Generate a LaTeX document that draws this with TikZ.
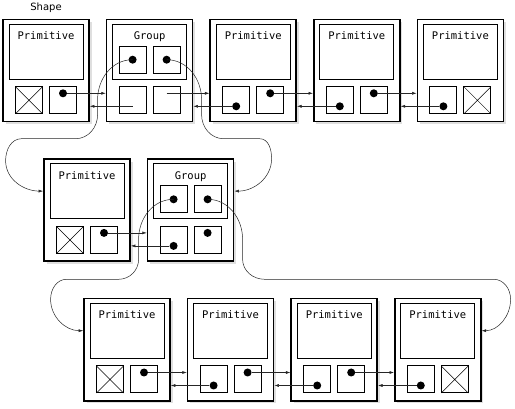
\documentclass[tikz,border=0pt]{standalone}
\usepackage{fontspec}
\usepackage{tikz}
\usetikzlibrary{positioning, shadows, arrows.meta}
\newfontfamily\boxfont{DejaVu Sans Mono}
\newfontfamily\capfont{DejaVu Sans}

\begin{document}
\begin{tikzpicture}[x=1pt,y=1pt,node distance=16pt,
        box/.style={draw,line width=1.6pt,fill=white,minimum width=86pt,minimum height=102pt,
          drop shadow={shadow xshift=2.5pt,shadow yshift=-2.5pt,opacity=0.25}},
        pane/.style={draw,line width=1pt,minimum width=74pt,inner ysep=4pt,text height=11.5pt,text depth=35.5pt,
          font=\boxfont\fontsize{10.5}{12}\selectfont},
        sq/.style={draw,line width=1pt,minimum size=27pt,inner sep=0pt,outer sep=0pt},
        dot/.style={circle,fill,inner sep=0pt,minimum size=8pt},
        ptr/.style={-{Latex[length=4.5pt,width=3pt]},line width=0.5pt,black!85}]
        \useasboundingbox (0,0) rectangle (515,-409);

        \node[box] (s1) at (46,-70.5) {};
        \node[box] (g1) [right=of s1] {};
        \node[box] (s2) [right=of g1] {};
        \node[box] (s3) [right=of s2] {};
        \node[box] (s4) [right=of s3] {};
        \node[box] (s5) [below=36pt of s1,xshift=41pt] {};
        \node[box] (g2) [right=of s5] {};
        \node[box] (s6) [below=36pt of s5,xshift=40pt] {};
        \node[box] (s7) [right=of s6] {};
        \node[box] (s8) [right=of s7] {};
        \node[box] (s9) [right=of s8] {};
        \node[font=\capfont] (title) [above=3pt of s1] {Shape};

        \foreach \b in {s1,s2,s3,s4,s5,s6,s7,s8,s9} {
          \node[pane,below=5pt of \b.north] (i\b) {Primitive};
          \node[sq] (l\b) at ([shift={(-17pt,22pt)}]\b.south) {};
          \node[sq] (r\b) at ([shift={(17pt,22pt)}]\b.south) {};
        }
        \foreach \b in {g1,g2} {
          \node[pane,below=5pt of \b.north] (i\b) {Group};
          \node[sq] (tl\b) at ([shift={(-17pt,-41pt)}]\b.north) {};
          \node[sq] (tr\b) at ([shift={(17pt,-41pt)}]\b.north) {};
          \node[sq] (l\b) at ([shift={(-17pt,22pt)}]\b.south) {};
          \node[sq] (r\b) at ([shift={(17pt,22pt)}]\b.south) {};
          \node[dot] (dtl\b) at (tl\b) {};
          \node[dot] (dtr\b) at (tr\b) {};
        }
        \foreach \s in {ls1,rs4,ls5,ls6,rs9}
          \draw[line width=0.5pt] (\s.north west) -- (\s.south east) (\s.north east) -- (\s.south west);

        \foreach \s in {s1,s2,s3,s5,s6,s7,s8,g2}
          \node[dot] (dr\s) at ([yshift=7pt]r\s.center) {};
        \foreach \s in {s2,s3,s4,g2,s7,s8,s9}
          \node[dot] (dl\s) at ([yshift=-6pt]l\s.center) {};
        \coordinate (drg1) at ([yshift=7pt]rg1.center);
        \coordinate (dlg1) at ([yshift=-6pt]lg1.center);

        \foreach \a/\b in {s1/g1,g1/s2,s2/s3,s3/s4,s5/g2,s6/s7,s7/s8,s8/s9} {
          \draw[ptr] (dr\a) -- (dr\a -| \b.west);
          \draw[ptr] (dl\b) -- (dl\b -| \a.east);
        }

        \draw[ptr] (dtlg1.center) to[out=180,in=90] ++(-35,-40) -- ++(0,-15)
          to[out=-90,in=0] ++(-22,-24) -- ++(-54,0)
          to[out=180,in=90] ++(-16,-22) to[out=-90,in=180] ([yshift=19pt]s5.west);
        \draw[ptr] (dtrg1.center) to[out=0,in=90] ++(35,-40) -- ++(0,-15)
          to[out=-90,in=180] ++(22,-24) -- ++(36,0)
          to[out=0,in=90] ++(12,-20) to[out=-90,in=0] ([yshift=19pt]g2.east);
        \draw[ptr] (dtlg2.center) to[out=180,in=90] ++(-35,-40) -- ++(0,-20)
          to[out=-90,in=0] ++(-20,-20) -- ++(-52,0)
          to[out=180,in=90] ++(-16,-20) to[out=-90,in=180] ([yshift=19pt]s6.west);
        \draw[ptr] (dtrg2.center) to[out=0,in=90] ++(35,-40) -- ++(0,-20)
          to[out=-90,in=180] ++(22,-20) -- ++(229,0)
          to[out=0,in=90] ++(17,-20) to[out=-90,in=0] ([yshift=19pt]s9.east);
      \end{tikzpicture}
\end{document}
